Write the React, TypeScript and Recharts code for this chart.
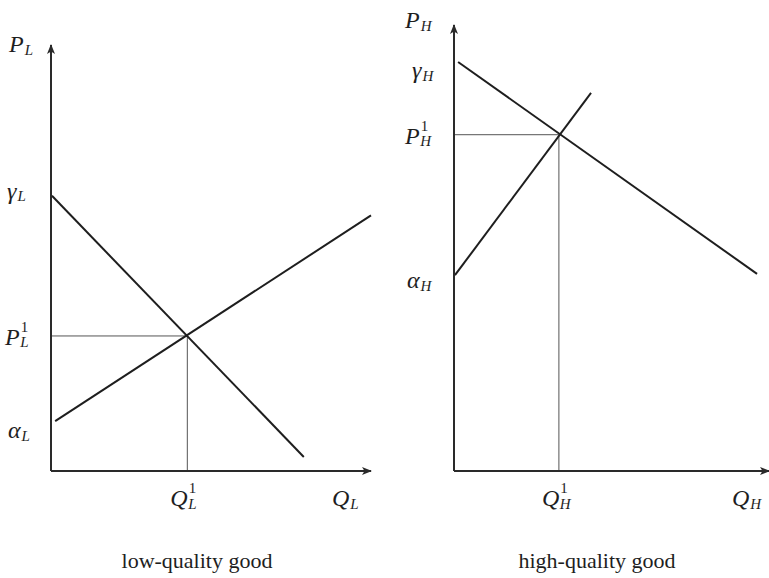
import React from 'react';
import { LineChart, Line, XAxis, YAxis, Label } from 'recharts';

// ---- Data (axis units 0..10) ----
const lowDemand = [{ x: 0.03, y: 6.46 }, { x: 7.9, y: 0.33 }];
const lowSupply = [{ x: 0.13, y: 1.17 }, { x: 10, y: 6.0 }];
const lowEq = { x: 4.26, y: 3.17 };

const highDemand = [{ x: 0.13, y: 9.17 }, { x: 9.62, y: 4.42 }];
const highSupply = [{ x: 0.03, y: 4.39 }, { x: 4.35, y: 8.48 }];
const highEq = { x: 3.33, y: 7.54 };

const lowYTicks = [lowDemand[0].y, lowEq.y, lowSupply[0].y];
const lowYLabels = [
  { base: 'γ', sub: 'L', sup: '' },
  { base: 'P', sub: 'L', sup: '1' },
  { base: 'α', sub: 'L', sup: '' },
];
const lowXTicks = [lowEq.x];
const lowXLabels = [{ base: 'Q', sub: 'L', sup: '1' }];

const highYTicks = [highDemand[0].y, highEq.y, highSupply[0].y];
const highYLabels = [
  { base: 'γ', sub: 'H', sup: '' },
  { base: 'P', sub: 'H', sup: '1' },
  { base: 'α', sub: 'H', sup: '' },
];
const highXTicks = [highEq.x];
const highXLabels = [{ base: 'Q', sub: 'H', sup: '1' }];

const captions = ['low-quality good', 'high-quality good'];

// ---- Styling / layout ----
const SERIF = "'Times New Roman', 'Liberation Serif', Times, serif";
const INK = '#1e1e1e';

const guide = (eq: { x: number; y: number }) => ({
  h: [{ x: 0, y: eq.y }, { x: eq.x, y: eq.y }],
  v: [{ x: eq.x, y: eq.y }, { x: eq.x, y: 0 }],
});

function MathText({ x, y, base, sub, sup }: { x: number; y: number; base: string; sub: string; sup?: string }) {
  return (
    <text x={x} y={y} fontFamily={SERIF} fill={INK} style={{ fontFamily: SERIF }}>
      <tspan fontStyle="italic" fontSize={24}>{base}</tspan>
      {sup ? <tspan fontSize={15} dx={1} dy={-13}>{sup}</tspan> : null}
      <tspan fontStyle="italic" fontSize={15} dx={sup ? -8 : 1} dy={sup ? 15.5 : 2.5}>{sub}</tspan>
    </text>
  );
}

type PanelProps = {
  left: number;
  width: number;
  yAxisWidth: number;
  top: number;
  demand: { x: number; y: number }[];
  supply: { x: number; y: number }[];
  eq: { x: number; y: number };
  yTicks: number[];
  yLabels: { base: string; sub: string; sup: string }[];
  yLabelX: number[];
  yLabelDy: number[];
  xTicks: number[];
  xLabels: { base: string; sub: string; sup: string }[];
  yName: { base: string; sub: string };
  yNamePos: [number, number];
  xName: { base: string; sub: string };
  xNamePos: [number, number];
  marginRight: number;
};

function Panel(p: PanelProps) {
  const g = guide(p.eq);
  const height = 578;
  return (
    <div style={{ position: 'absolute', left: p.left, top: 0 }}>
      <LineChart width={p.width} height={height} margin={{ top: p.top, right: p.marginRight, bottom: 0, left: 0 }}>
        <XAxis
          type="number"
          dataKey="x"
          domain={[0, 10]}
          ticks={p.xTicks}
          height={107}
          tickLine={false}
          axisLine={{ stroke: '#2a2a2a', strokeWidth: 2, markerEnd: 'url(#arrowHead)' }}
          tick={(props: any) => {
            const lab = p.xLabels[props.index ?? 0] || p.xLabels[0];
            return <MathText x={props.x - 17} y={506} base={lab.base} sub={lab.sub} sup={lab.sup} />;
          }}
        >
          <Label
            content={() => <MathText x={p.xNamePos[0]} y={p.xNamePos[1]} base={p.xName.base} sub={p.xName.sub} />}
          />
        </XAxis>
        <YAxis
          type="number"
          dataKey="y"
          domain={[0, 10]}
          ticks={p.yTicks}
          width={p.yAxisWidth}
          tickLine={false}
          axisLine={{ stroke: '#2a2a2a', strokeWidth: 2, markerStart: 'url(#arrowHeadRev)' }}
          tick={(props: any) => {
            const i = props.index ?? 0;
            const lab = p.yLabels[i];
            return (
              <MathText x={p.yLabelX[i]} y={props.y + p.yLabelDy[i]} base={lab.base} sub={lab.sub} sup={lab.sup} />
            );
          }}
        >
          <Label
            content={() => <MathText x={p.yNamePos[0]} y={p.yNamePos[1]} base={p.yName.base} sub={p.yName.sub} />}
          />
        </YAxis>
        <Line data={g.h} dataKey="y" type="linear" stroke="#555" strokeWidth={1} dot={false} isAnimationActive={false} />
        <Line data={g.v} dataKey="y" type="linear" stroke="#555" strokeWidth={1} dot={false} isAnimationActive={false} />
        <Line data={p.demand} dataKey="y" type="linear" stroke={INK} strokeWidth={2} dot={false} isAnimationActive={false} />
        <Line data={p.supply} dataKey="y" type="linear" stroke={INK} strokeWidth={2} dot={false} isAnimationActive={false} />
      </LineChart>
    </div>
  );
}

export default function App() {
  return (
    <div style={{ position: 'absolute', left: 0, top: 0, width: 769, height: 578, background: '#fff' }}>
      <svg width={0} height={0} style={{ position: 'absolute' }}>
        <defs>
          <marker id="arrowHead" markerUnits="userSpaceOnUse" markerWidth={10} markerHeight={8} viewBox="0 0 10 8" refX={9} refY={4} orient="auto">
            <path d="M0,0 L10,4 L0,8 L2.5,4 Z" fill="#2a2a2a" />
          </marker>
          <marker id="arrowHeadRev" markerUnits="userSpaceOnUse" markerWidth={10} markerHeight={8} viewBox="0 0 10 8" refX={9} refY={4} orient="auto-start-reverse">
            <path d="M0,0 L10,4 L0,8 L2.5,4 Z" fill="#2a2a2a" />
          </marker>
        </defs>
      </svg>
      <Panel
        left={0}
        width={385}
        yAxisWidth={51}
        top={45}
        marginRight={14}
        demand={lowDemand}
        supply={lowSupply}
        eq={lowEq}
        yTicks={lowYTicks}
        yLabels={lowYLabels}
        yLabelX={[7, 5, 8]}
        yLabelDy={[3, 9, 17]}
        xTicks={lowXTicks}
        xLabels={lowXLabels}
        yName={{ base: 'P', sub: 'L' }}
        yNamePos={[9, 52]}
        xName={{ base: 'Q', sub: 'L' }}
        xNamePos={[332, 506]}
      />
      <Panel
        left={385}
        width={384}
        yAxisWidth={69}
        top={25}
        marginRight={0}
        demand={highDemand}
        supply={highSupply}
        eq={highEq}
        yTicks={highYTicks}
        yLabels={highYLabels}
        yLabelX={[27, 20, 22]}
        yLabelDy={[16, 9, 13]}
        xTicks={highXTicks}
        xLabels={highXLabels}
        yName={{ base: 'P', sub: 'H' }}
        yNamePos={[20, 28]}
        xName={{ base: 'Q', sub: 'H' }}
        xNamePos={[347, 506]}
      />
      <div style={{ position: 'absolute', left: 0, width: 394, top: 548, textAlign: 'center', fontFamily: SERIF, fontSize: 22, color: INK }}>
        {captions[0]}
      </div>
      <div style={{ position: 'absolute', left: 394, width: 406, top: 548, textAlign: 'center', fontFamily: SERIF, fontSize: 22, color: INK }}>
        {captions[1]}
      </div>
    </div>
  );
}
